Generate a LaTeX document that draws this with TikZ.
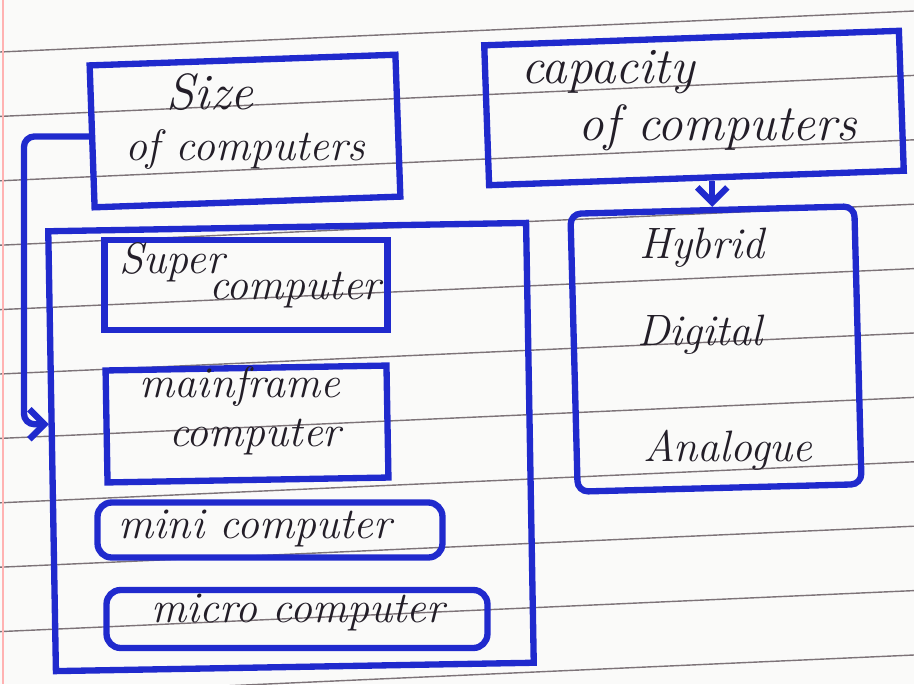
\documentclass[tikz,border=0pt]{standalone}
\usetikzlibrary{arrows.meta}
\definecolor{ink}{RGB}{32,42,205}
\definecolor{pencil}{RGB}{35,30,40}
\definecolor{ruling}{RGB}{125,115,120}
\definecolor{paper}{RGB}{250,250,249}
\tikzset{
  box/.style={draw=ink, line width=3.6pt, inner sep=0pt},
  hand/.style={text=pencil, font=\fontsize{25}{30}\selectfont\itshape, inner sep=1pt},
  bighand/.style={hand, font=\fontsize{29}{34}\selectfont\itshape},
  link/.style={draw=ink, line width=3.6pt, rounded corners=6pt, -{Straight Barb[length=3mm,width=6mm]}},
  rule/.style={draw=ruling, line width=0.8pt},
}

\begin{document}
\begin{tikzpicture}[x=0.02cm,y=-0.02cm]
    \fill[paper] (0,0) rectangle (914,684);
    \useasboundingbox (0,0) rectangle (914,684);
    % ruled page
    \foreach \k in {0,...,10}
        \draw[rule] (0,52+64.4*\k) -- (914,11+64.4*\k);
    \draw[red!30,line width=0.6pt] (3,0) -- (3,684);

    % classification by size
    \node[box,minimum width=6.12cm,minimum height=2.84cm,rotate=2] (size) at (245,131) {};
    \node[bighand] (sizeA) at (210,92) {Size};
    \node[hand] (sizeB) at (245,150) {of computers};

    \node[box,minimum width=9.56cm,minimum height=8.8cm,rotate=1] (group) at (291,447) {};
    \node[box,minimum width=5.66cm,minimum height=1.8cm] (super) at (246,285) {};
    \node[hand] (superA) at (172,262) {Super};
    \node[hand] (superB) at (295,290) {computer};
    \node[box,minimum width=5.62cm,minimum height=2.24cm,rotate=1] (main) at (247,424) {};
    \node[hand] (mainA) at (240,387) {mainframe};
    \node[hand] (mainB) at (255,437) {computer};
    \node[box,rounded corners=8pt,minimum width=6.9cm,minimum height=1.1cm] (mini) at (270,530) {};
    \node[hand] (miniA) at (255,528) {mini computer};
    \node[box,rounded corners=8pt,minimum width=7.62cm,minimum height=1.16cm] (micro) at (297,619) {};
    \node[hand] (microA) at (298,612) {micro computer};

    \draw[link] (size.west) -| ([xshift=-0.5cm,yshift=0.54cm]group.west) -- ([yshift=0.54cm]group.west);

    % classification by capacity
    \node[box,minimum width=8.3cm,minimum height=2.8cm,rotate=2] (capacity) at (694,108) {};
    \node[bighand] (capA) at (608,72) {capacity};
    \node[bighand] (capB) at (718,128) {of computers};

    \node[box,rounded corners=6pt,minimum width=5.68cm,minimum height=5.56cm,rotate=1.5] (kinds) at (716,349) {};
    \node[hand] (hybrid) at (702,248) {Hybrid};
    \node[hand] (digital) at (700,335) {Digital};
    \node[hand] (analogue) at (728,450) {Analogue};

    \draw[link] (capacity.south -| kinds.north) -- (kinds.north);
\end{tikzpicture}
\end{document}
